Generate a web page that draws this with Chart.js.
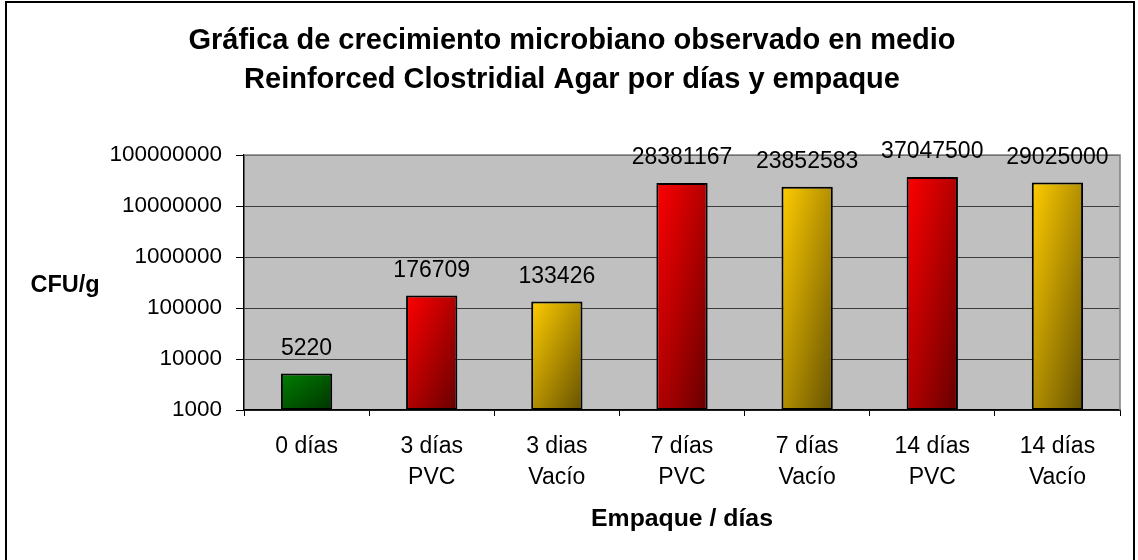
<!DOCTYPE html>
<html>
<head>
<meta charset="utf-8">
<script src="https://cdn.jsdelivr.net/npm/chart.js@4.4.1/dist/chart.umd.min.js"></script>
<style>
  html, body { margin: 0; padding: 0; background: #ffffff; }
  canvas { display: block; }
</style>
</head>
<body>
<canvas id="c" width="1138" height="560"></canvas>
<script>
// ---- data ----
const categories = [
  ['0 días'],
  ['3 días', 'PVC'],
  ['3 dias', 'Vacío'],
  ['7 días', 'PVC'],
  ['7 días', 'Vacío'],
  ['14 días', 'PVC'],
  ['14 días', 'Vacío']
];
const cfuValues = [5220, 176709, 133426, 28381167, 23852583, 37047500, 29025000];
const yTickValues = [1000, 10000, 100000, 1000000, 10000000, 100000000];
const titleLines = [
  'Gráfica de crecimiento microbiano observado en medio',
  'Reinforced Clostridial Agar por días y empaque'
];
const yAxisTitle = 'CFU/g';
const xAxisTitle = 'Empaque / días';

// ---- styles ----
const gradLight = ['#008000', '#FF0000', '#FFCC00', '#FF0000', '#FFCC00', '#FF0000', '#FFCC00'];
const gradDark  = ['#003300', '#660000', '#665200', '#660000', '#665200', '#660000', '#665200'];
const FONT = '"Liberation Sans", Arial, sans-serif';
const BAR_PCT = 0.41;

function barGradient(context) {
  const chart = context.chart;
  const i = context.dataIndex;
  const xs = chart.scales.x, ys = chart.scales.y;
  if (!chart.chartArea || !xs || !ys || i === undefined) return gradLight[0];
  const cx = xs.getPixelForValue(i);
  const w = (xs.width / categories.length) * BAR_PCT;
  const top = ys.getPixelForValue(cfuValues[i]);
  const bot = ys.bottom;
  const h = Math.max(1, bot - top);
  const x0 = cx - w / 2, y0 = top;
  const L2 = w * w + h * h;
  const k = 2 * w * h / L2;
  const g = chart.ctx.createLinearGradient(x0, y0, x0 + h * k, y0 + w * k);
  g.addColorStop(0, gradLight[i]);
  g.addColorStop(1, gradDark[i]);
  return g;
}

const decorPlugin = {
  id: 'decor',
  beforeDraw(chart) {
    const ctx = chart.ctx;
    const a = chart.chartArea;
    ctx.save();
    ctx.fillStyle = '#ffffff';
    ctx.fillRect(0, 0, chart.width, chart.height);
    ctx.strokeStyle = '#000000';
    ctx.lineWidth = 2;
    ctx.strokeRect(6, 2, 1128, 700);
    ctx.fillStyle = '#C0C0C0';
    ctx.fillRect(a.left, a.top, a.right - a.left, a.bottom - a.top);
    ctx.restore();
  },
  beforeDatasetsDraw(chart) {
    const ctx = chart.ctx;
    const a = chart.chartArea;
    ctx.save();
    ctx.strokeStyle = '#808080';
    ctx.lineWidth = 1.5;
    ctx.beginPath();
    ctx.moveTo(a.left, a.top);
    ctx.lineTo(a.right, a.top);
    ctx.lineTo(a.right, a.bottom);
    ctx.stroke();
    ctx.restore();
  },
  afterDatasetsDraw(chart) {
    const ctx = chart.ctx;
    const meta = chart.getDatasetMeta(0);
    ctx.save();
    ctx.fillStyle = '#000000';
    ctx.font = '23px ' + FONT;
    ctx.textAlign = 'center';
    ctx.textBaseline = 'alphabetic';
    meta.data.forEach((bar, i) => {
      ctx.fillText(String(cfuValues[i]), bar.x, bar.y - 18.5);
    });
    ctx.restore();
  },
  afterDraw(chart) {
    const ctx = chart.ctx;
    const a = chart.chartArea;
    ctx.save();
    ctx.fillStyle = '#000000';
    ctx.textAlign = 'center';
    ctx.textBaseline = 'alphabetic';
    ctx.font = 'bold 29px ' + FONT;
    ctx.fillText(titleLines[0], 572, 49);
    ctx.fillText(titleLines[1], 572, 88);
    ctx.font = 'bold 23.5px ' + FONT;
    ctx.textAlign = 'left';
    ctx.fillText(yAxisTitle, 30.5, 291.5);
    ctx.textAlign = 'center';
    ctx.font = 'bold 24.8px ' + FONT;
    ctx.fillText(xAxisTitle, (a.left + a.right) / 2, 526);
    ctx.restore();
  }
};

new Chart(document.getElementById('c'), {
  type: 'bar',
  data: {
    labels: categories,
    datasets: [{
      data: cfuValues,
      backgroundColor: barGradient,
      borderColor: '#000000',
      borderWidth: 2,
      borderSkipped: false,
      barPercentage: BAR_PCT,
      categoryPercentage: 1.0
    }]
  },
  options: {
    responsive: false,
    animation: false,
    events: [],
    layout: { padding: { top: 155, right: 18, left: 0, bottom: 0 } },
    plugins: {
      legend: { display: false },
      title: { display: false },
      tooltip: { enabled: false }
    },
    scales: {
      x: {
        offset: true,
        grid: {
          offset: true,
          drawOnChartArea: false,
          drawTicks: true,
          tickLength: 6,
          tickColor: '#000000',
          tickWidth: 1
        },
        border: { display: true, color: '#000000', width: 1.5 },
        ticks: {
          color: '#000000',
          font: { family: FONT, size: 23, lineHeight: 1.31 },
          padding: 16,
          maxRotation: 0,
          autoSkip: false
        },
        afterFit(scale) { scale.height = 150; }
      },
      y: {
        type: 'logarithmic',
        min: 1000,
        max: 100000000,
        grid: {
          color: '#3c3c3c',
          lineWidth: 1,
          drawTicks: true,
          tickLength: 8,
          tickColor: '#000000'
        },
        border: { display: true, color: '#000000', width: 1.5 },
        ticks: {
          color: '#000000',
          font: { family: FONT, size: 22.5 },
          padding: 14,
          callback: (v) => String(v)
        },
        afterBuildTicks(scale) {
          scale.ticks = yTickValues.map(v => ({ value: v, major: true }));
        },
        afterFit(scale) { scale.width = 244; }
      }
    }
  },
  plugins: [decorPlugin]
});
</script>
</body>
</html>
